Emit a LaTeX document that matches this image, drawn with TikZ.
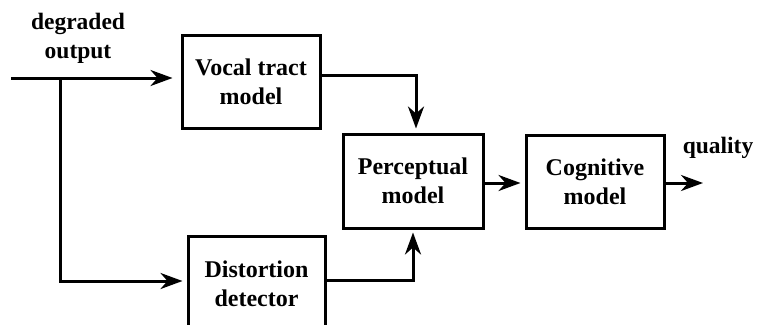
\documentclass[tikz,border=0pt]{standalone}
\usepackage{fontspec}
\setmainfont{Liberation Serif}
\usetikzlibrary{arrows.meta}
\tikzset{
  block/.style={draw, line width=3pt, align=center, inner sep=0pt,
    font=\bfseries\fontsize{24}{29}\selectfont},
  label/.style={align=center, inner sep=0pt,
    font=\bfseries\fontsize{23.5}{29}\selectfont},
  wire/.style={line width=3pt},
  flow/.style={wire, -{Stealth[length=22pt, width=16pt, inset=7pt]}},
}
\begin{document}
\begin{tikzpicture}[x=1pt, y=-1pt]
  \useasboundingbox (0,0) rectangle (759,324);
  \clip (0,0) rectangle (759,324);

  % processing blocks
  \node[block, minimum width=138pt, minimum height=93pt] (vt) at (251,81.5) {Vocal tract\\model};
  \node[block, minimum width=140pt, minimum height=94pt] (pm) at (413,181) {Perceptual\\model};
  \node[block, minimum width=138pt, minimum height=93pt] (cm) at (595,181.5) {Cognitive\\model};
  \node[block, minimum width=137pt, minimum height=96pt] (dd) at (256.5,284) {Distortion\\detector};

  % signal labels
  \node[label] (deg) at (78,38) {degraded\\output};
  \node[label] (qual) at (718,148) {quality};

  % junction and free ends
  \coordinate (in) at (11,78);
  \coordinate (br) at (60,78);
  \coordinate (brlow) at (60,281);
  \coordinate (vtout) at (320,75);
  \coordinate (vtturn) at (416,75);
  \coordinate (ddout) at (325,280);
  \coordinate (ddturn) at (413,280);
  \coordinate (out) at (703,183);

  % connectors
  \draw[flow, shorten >=8pt] (in) -- (in -| vt.west);
  \draw[flow, shorten >=4pt] (br) -- (brlow) -- (brlow -| dd.west);
  \draw[flow, shorten >=4pt] (vtout) -- (vtturn) -- (vtturn |- pm.north);
  \draw[flow, shorten >=3pt] (ddout) -- (ddturn) -- (ddturn |- pm.south);
  \draw[flow, shorten >=4pt] (pm.east |- out) -- (cm.west |- out);
  \draw[flow] (cm.east |- out) -- (out);
\end{tikzpicture}
\end{document}
